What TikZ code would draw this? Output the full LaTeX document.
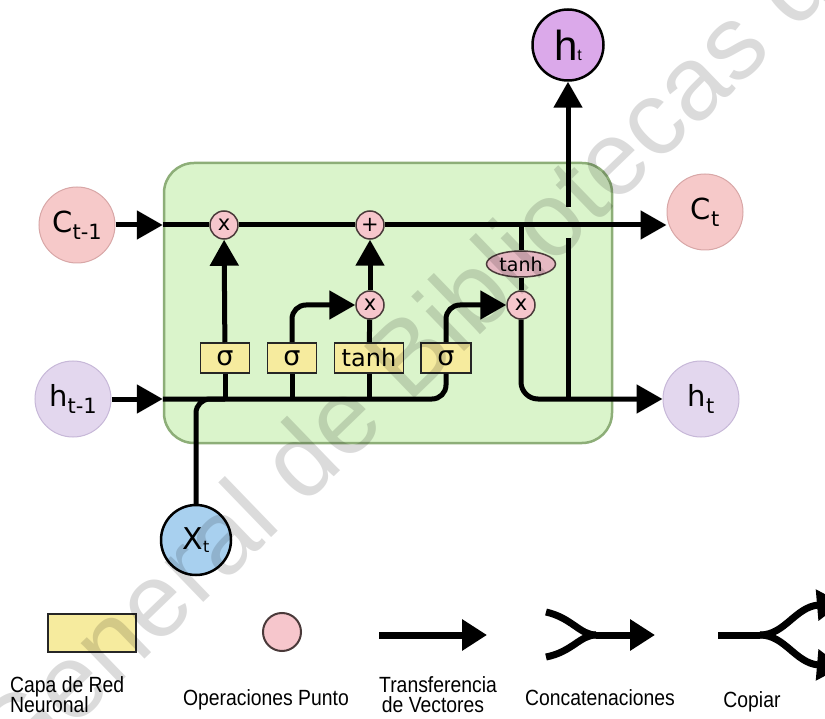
\documentclass[tikz,border=0pt]{standalone}
\usepackage{fontspec}
\setmainfont{DejaVu Sans}
\newfontfamily\legendfont[FakeStretch=0.88]{Liberation Sans}
\newfontfamily\narrowfont{Liberation Sans}
\usetikzlibrary{arrows.meta,shapes.geometric}

\definecolor{cellgreen}{HTML}{DAF4CB}
\definecolor{cellborder}{HTML}{8DAE78}
\definecolor{statepink}{HTML}{F6C9C9}
\definecolor{stateborder}{HTML}{D8A7A7}
\definecolor{hidlav}{HTML}{E3D7EE}
\definecolor{hidborder}{HTML}{C7B8D8}
\definecolor{outviolet}{HTML}{DBA9EA}
\definecolor{inblue}{HTML}{A8D0EF}
\definecolor{layeryellow}{HTML}{F6EB9E}
\definecolor{oppink}{HTML}{F6C6CC}
\definecolor{opborder}{HTML}{4A3A3A}
\definecolor{tanhpink}{HTML}{E6B9C3}

\tikzset{
  flow/.style={line width=5pt, black},
  lgline/.style={line width=7pt, black},
  statecirc/.style={circle, minimum size=76pt, inner sep=0pt, fill=statepink, draw=stateborder, line width=1pt},
  hidcirc/.style={circle, minimum size=76pt, inner sep=0pt, fill=hidlav, draw=hidborder, line width=1pt},
  opcirc/.style={circle, minimum size=28pt, inner sep=0pt, fill=oppink, draw=opborder, line width=1.5pt,
                 font=\fontsize{21}{21}\selectfont},
  layerbox/.style={rectangle, minimum height=30pt, inner sep=0pt, fill=layeryellow, draw=black!85, line width=1.5pt},
  legendtext/.style={font=\legendfont\fontsize{22}{22}\selectfont, inner sep=0pt, anchor=base},
}

\begin{document}
\begin{tikzpicture}[x=1pt, y=-1pt, >={Triangle[width=28pt,length=26pt]}]
\useasboundingbox (0,0) rectangle (825,719);
\clip (0,0) rectangle (825,719);

% LSTM cell background
\node[draw=cellborder, fill=cellgreen, rounded corners=30pt, line width=2.5pt,
      minimum width=448pt, minimum height=280pt, inner sep=0pt] (cell) at (388,303) {};

% inputs and outputs
\node[statecirc] (cprev) at (77,225)
  {\fontsize{29}{30}\selectfont C\raisebox{-7pt}{\fontsize{21}{22}\selectfont t-1}};
\node[hidcirc] (hprev) at (73,399)
  {\fontsize{29}{30}\selectfont h\raisebox{-7pt}{\fontsize{21}{22}\selectfont t-1}};
\node[statecirc] (ct) at (705,212)
  {\fontsize{29}{30}\selectfont C\raisebox{-7pt}{\fontsize{21}{22}\selectfont t}};
\node[hidcirc] (hr) at (701,399)
  {\fontsize{29}{30}\selectfont h\raisebox{-7pt}{\fontsize{21}{22}\selectfont t}};
\node[circle, minimum size=71pt, inner sep=0pt, fill=outviolet, draw=black, line width=2.5pt] (htop) at (568,45)
  {\narrowfont\fontsize{42}{42}\selectfont h\fontsize{16}{16}\selectfont t};
\node[circle, minimum size=70pt, inner sep=0pt, fill=inblue, draw=black, line width=2.5pt] (xt) at (196,540)
  {\fontsize{30}{30}\selectfont X\raisebox{-3pt}{\fontsize{16}{16}\selectfont t}};

% pointwise operations
\node[opcirc] (mul1) at (224,225) {x};
\node[opcirc] (add)  at (370,225) {+};
\node[opcirc] (mul2) at (370,305) {x};
\node[opcirc] (mul3) at (521,305) {x};
\node[ellipse, minimum width=69pt, minimum height=26pt, inner sep=0pt, fill=tanhpink, draw=opborder,
      line width=1.5pt, font=\fontsize{19}{19}\selectfont] (tanhc) at (521,264) {tanh};

% neural network layers
\node[layerbox, minimum width=49pt, font=\fontsize{27}{27}\selectfont] (sg1) at (225,358) {σ};
\node[layerbox, minimum width=49pt, font=\fontsize{27}{27}\selectfont] (sg2) at (292,358) {σ};
\node[layerbox, minimum width=69pt, font=\fontsize{24}{24}\selectfont] (tnh) at (369,358) {tanh};
\node[layerbox, minimum width=50pt, font=\fontsize{27}{27}\selectfont] (sg4) at (446,358) {σ};

% helper points
\coordinate (cin) at (cell.west |- cprev);
\coordinate (hin) at (cell.west |- hprev);
\coordinate (split) at (htop |- hr);
\coordinate (gaplo) at (568,238);
\coordinate (gaphi) at (568,207);

% cell state line
\draw[flow,->] (cprev) -- (cin);
\draw[flow] (cin) -- (mul1);
\draw[flow] (mul1) -- (add);
\draw[flow,->] (add) -- (add -| ct.west);

% hidden state / input line
\draw[flow,->] (hprev) -- (hin);
\draw[flow, rounded corners=14pt] (hin) -| (sg4.south);
\draw[flow, rounded corners=14pt] (xt) |- (sg1.south |- hin);
\draw[flow] (sg1.south |- hin) -- (sg1.south);
\draw[flow] (sg2.south |- hin) -- (sg2.south);
\draw[flow] (tnh.south |- hin) -- (tnh.south);

% gates
\draw[flow,->] (sg1) -- (mul1);
\draw[flow,->, rounded corners=14pt] (sg2) |- (mul2);
\draw[flow] (tnh) -- (mul2);
\draw[flow,->] (mul2) -- (add);
\draw[flow,->, rounded corners=14pt] (sg4) |- (mul3);

% output gate
\draw[flow] (mul3 |- add) -- (tanhc);
\draw[flow] (tanhc) -- (mul3);
\draw[flow,->, rounded corners=17pt] (mul3) |- (hr);
\draw[flow] (split) -- (gaplo);
\draw[flow,->] (gaphi) -- (htop);

% legend
\node[layerbox, minimum width=88pt, minimum height=38pt, line width=2pt] (lgbox) at (92,633) {};
\node[circle, minimum size=38pt, inner sep=0pt, fill=oppink, draw=opborder, line width=2pt] (lgop) at (282,632) {};

\coordinate (va) at (379,635);
\coordinate (vb) at (487,635);
\draw[lgline, -{Triangle[width=30pt,length=25pt]}] (va) -- (vb);

\coordinate (ca) at (546,612);
\coordinate (cb) at (546,657);
\coordinate (cm) at (596,635);
\coordinate (cc) at (655,635);
\draw[lgline] (ca) .. controls (572,618) and (580,635) .. (cm);
\draw[lgline] (cb) .. controls (572,652) and (580,635) .. (cm);
\draw[lgline, -{Triangle[width=30pt,length=25pt]}] (cm) -- (cc);

\coordinate (pa) at (718,635);
\coordinate (pm) at (760,635);
\coordinate (pu) at (842,603);
\coordinate (pd) at (842,667);
\draw[lgline] (pa) -- (pm);
\draw[lgline, -{Triangle[width=30pt,length=25pt]}] (pm) .. controls (785,635) and (795,607) .. (pu);
\draw[lgline, -{Triangle[width=30pt,length=25pt]}] (pm) .. controls (785,635) and (795,663) .. (pd);

\node[legendtext, anchor=base west] (t1a) at (10,692) {Capa de Red};
\node[legendtext, anchor=base west] (t1b) at (10,712) {Neuronal};
\node[legendtext] (t2) at (266,705) {Operaciones Punto};
\node[legendtext] (t3a) at (438,692) {Transferencia};
\node[legendtext] (t3b) at (433,712) {de Vectores};
\node[legendtext] (t4) at (600,705) {Concatenaciones};
\node[legendtext] (t5) at (752,707) {Copiar};

% watermark
\node[rotate=44, anchor=base west, inner sep=0pt, text=black, opacity=0.14,
      font=\narrowfont\fontsize{105}{105}\selectfont] (mark) at (14,786) {General de Bibliotecas de la UNAM};
\end{tikzpicture}
\end{document}
